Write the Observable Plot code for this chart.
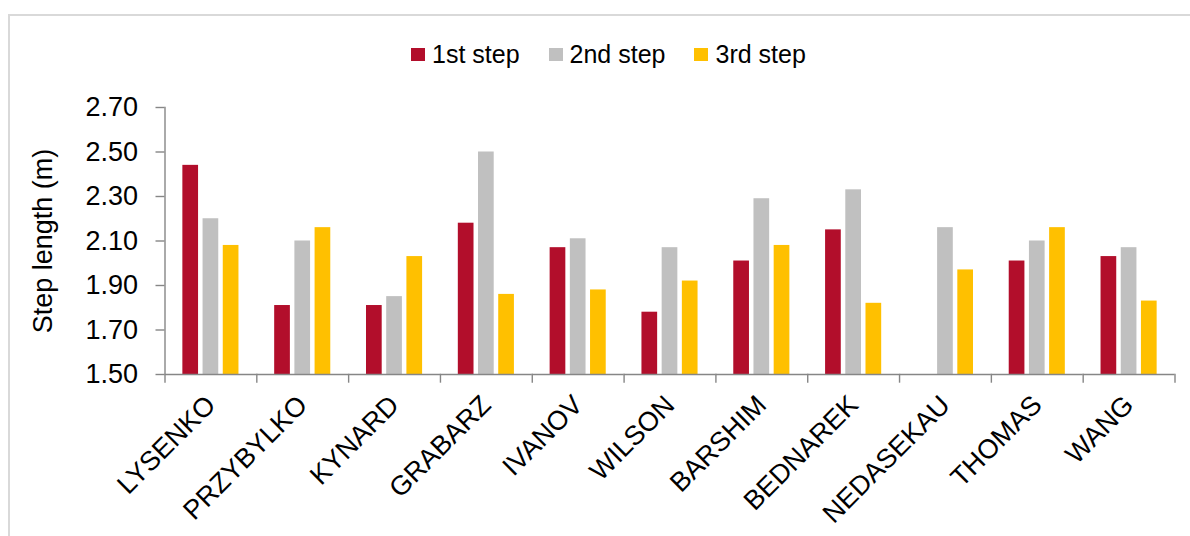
<!DOCTYPE html>
<html>
<head>
<meta charset="utf-8">
<script src="https://cdn.jsdelivr.net/npm/d3@7"></script>
<script src="https://cdn.jsdelivr.net/npm/@observablehq/plot@0.6"></script>
<style>
  html, body { margin: 0; padding: 0; background: #fff; overflow: hidden; }
  #box { position: absolute; left: 8px; top: 14px; width: 1180px; height: 600px; border: 2px solid #d9d9d9; border-right: none; border-bottom: none; }
  #legend { height: 76px; display: flex; align-items: center; padding-left: 401px; box-sizing: border-box; }
  .lg-swatches { margin: 0 !important; min-height: 0 !important; }
  .lg-swatch { margin-right: 29px !important; }
  .lg-swatch > svg { margin-right: 7px !important; }
  #chart svg { display: block; }
</style>
</head>
<body>
<div id="box">
  <div id="legend"></div>
  <div id="chart"></div>
</div>
<script>
const athletes = ["LYSENKO","PRZYBYLKO","KYNARD","GRABARZ","IVANOV","WILSON","BARSHIM","BEDNAREK","NEDASEKAU","THOMAS","WANG"];
const steps = ["1st step","2nd step","3rd step"];
const colors = ["#B20E2B","#C0C0C0","#FFC000"];
const step1 = [2.44, 1.81, 1.81, 2.18, 2.07, 1.78, 2.01, 2.15, null, 2.01, 2.03];
const step2 = [2.20, 2.10, 1.85, 2.50, 2.11, 2.07, 2.29, 2.33, 2.16, 2.10, 2.07];
const step3 = [2.08, 2.16, 2.03, 1.86, 1.88, 1.92, 2.08, 1.82, 1.97, 2.16, 1.83];
const yTicks = [1.50, 1.70, 1.90, 2.10, 2.30, 2.50, 2.70];
const yTitle = "Step length (m)";

const series = [step1, step2, step3];
const data = [];
athletes.forEach((a, i) => steps.forEach((s, j) => {
  const v = series[j][i];
  if (v != null) data.push({athlete: a, step: s, value: v});
}));

const font = "'Liberation Sans', Arial, sans-serif";
const axisColor = "#868686";
const base = yTicks[0];

const legend = Plot.legend({
  color: {domain: steps, range: colors},
  legend: "swatches",
  swatchWidth: 14,
  swatchHeight: 13,
  className: "lg",
  style: {fontFamily: font, fontSize: "25px", color: "#000"}
});
document.getElementById("legend").append(legend);

const chart = Plot.plot({
  width: 1180,
  height: 444,
  marginTop: 15,
  marginBottom: 162,
  marginLeft: 154.5,
  marginRight: 15.5,
  style: {fontFamily: font, color: "#000", background: "transparent", overflow: "visible"},
  fx: {domain: athletes, padding: 0, round: false, label: null},
  x: {domain: steps, paddingInner: 0.223, paddingOuter: 0.884, round: false, axis: null},
  y: {domain: [yTicks[0], yTicks[yTicks.length - 1]], axis: null},
  color: {domain: steps, range: colors},
  marks: [
    Plot.barY(data, {fx: "athlete", x: "step", y1: () => base, y2: "value", fill: "step"}),
    Plot.ruleY([base], {stroke: axisColor, strokeWidth: 1.4}),
    Plot.frame({anchor: "left", facetAnchor: "left", stroke: axisColor, strokeWidth: 1.4, insetBottom: -7.5}),
    Plot.frame({anchor: "right", stroke: axisColor, strokeWidth: 1.4, insetTop: 267, insetBottom: -7.5}),
    Plot.axisY({
      ticks: yTicks, tickFormat: d3.format(".2f"), tickSize: 9, tickPadding: 18,
      stroke: axisColor, strokeWidth: 1.4, fontSize: 27, fill: "#000",
      label: yTitle, labelAnchor: "center", labelArrow: "none", labelOffset: 132
    }),
    Plot.axisFx({
      anchor: "bottom", tickRotate: -45, tickSize: 0, tickPadding: 26,
      fontSize: 27, fill: "#000", label: null
    })
  ]
});
document.getElementById("chart").append(chart);
</script>
</body>
</html>
